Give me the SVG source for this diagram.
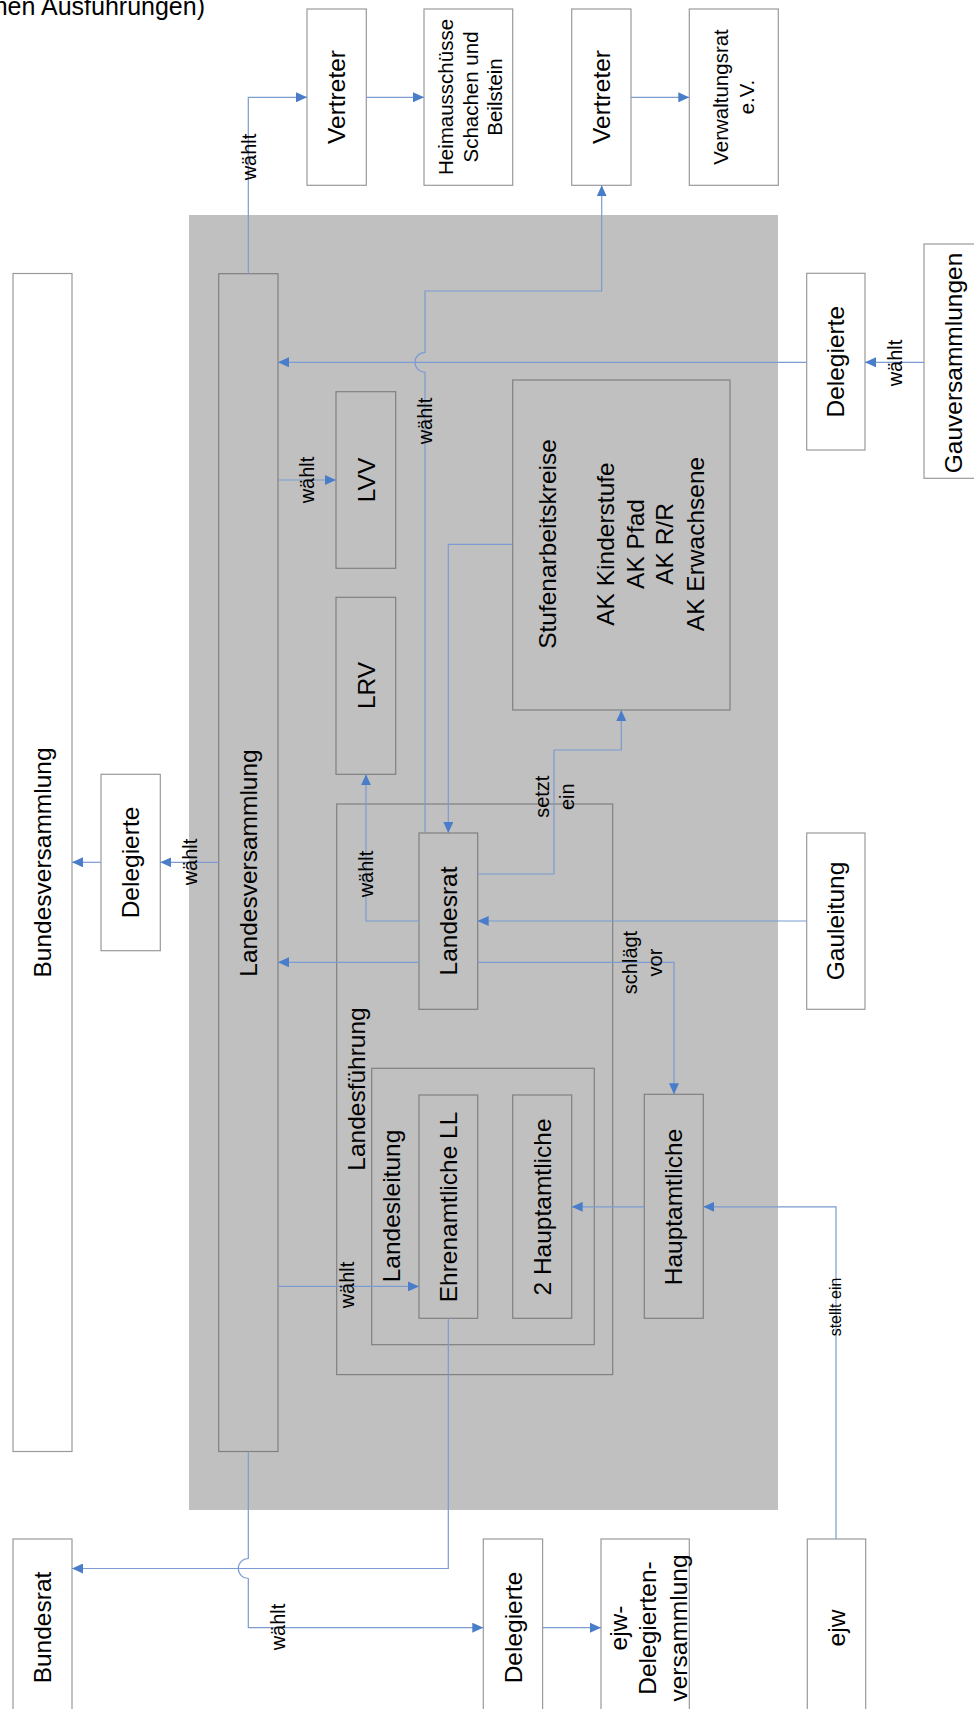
<svg xmlns="http://www.w3.org/2000/svg" width="974" height="1709" viewBox="0 0 974 1709">
<style>
.bg{fill:#c0c0c0;stroke:none}
.ob{fill:#ffffff;stroke:#9a9a9a;stroke-width:1.2}
.ib{fill:none;stroke:#808080;stroke-width:1.2}
.t{font-family:"Liberation Sans",Arial,sans-serif;font-size:24.5px;fill:#000;text-anchor:middle;dominant-baseline:central}
.s{font-family:"Liberation Sans",Arial,sans-serif;font-size:20.5px;fill:#000;text-anchor:middle;dominant-baseline:central}
.lb{font-family:"Liberation Sans",Arial,sans-serif;font-size:20px;fill:#000;text-anchor:middle;dominant-baseline:central}
.sm{font-family:"Liberation Sans",Arial,sans-serif;font-size:16px;fill:#000;text-anchor:middle;dominant-baseline:central}
.c{fill:none;stroke:#7b9bd1;stroke-width:1.2}
</style>
<defs>
<marker id="ah" markerUnits="userSpaceOnUse" markerWidth="11" markerHeight="10" refX="11" refY="5" orient="auto">
<path d="M0,0 L11,5 L0,10 z" fill="#4a7dc9"/>
</marker>
</defs>
<text x="205" y="15" font-family="Liberation Sans,Arial,sans-serif" font-size="25" text-anchor="end" fill="#000">hen Ausführungen)</text>
<rect class="bg" x="189" y="215" width="589" height="1295"/>
<g id="vertreter1"><rect class="ob" x="307" y="9" width="59.3" height="176.3"/><text class="t" transform="rotate(-90)" x="-97" y="336.5">Vertreter</text></g>
<g id="heimausschuesse"><rect class="ob" x="424" y="9" width="88.7" height="176.3"/><text class="s" transform="rotate(-90)"><tspan x="-97" y="445">Heimausschüsse</tspan><tspan x="-97" y="470">Schachen und</tspan><tspan x="-97" y="494">Beilstein</tspan></text></g>
<g id="vertreter2"><rect class="ob" x="571.7" y="9" width="59.3" height="176.3"/><text class="t" transform="rotate(-90)" x="-97" y="601.3">Vertreter</text></g>
<g id="verwaltungsrat"><rect class="ob" x="689.3" y="9" width="89" height="176.3"/><text class="s" transform="rotate(-90)"><tspan x="-97" y="720">Verwaltungsrat</tspan><tspan x="-97" y="746">e.V.</tspan></text></g>
<g id="bundesversammlung"><rect class="ob" x="13" y="273.5" width="59" height="1178"/><text class="t" transform="rotate(-90)" x="-862.5" y="42.5">Bundesversammlung</text></g>
<g id="delegierte-bund"><rect class="ob" x="101" y="774.3" width="59.3" height="176.4"/><text class="t" transform="rotate(-90)" x="-862.5" y="130.6">Delegierte</text></g>
<g id="landesversammlung"><rect class="ib" x="218.7" y="273.7" width="59.3" height="1177.8"/><text class="t" transform="rotate(-90)" x="-863" y="248.3">Landesversammlung</text></g>
<g id="lvv"><rect class="ib" x="336" y="391.7" width="59.7" height="176.6"/><text class="t" transform="rotate(-90)" x="-480" y="366">LVV</text></g>
<g id="lrv"><rect class="ib" x="336" y="597.3" width="59.7" height="177"/><text class="t" transform="rotate(-90)" x="-685.5" y="366">LRV</text></g>
<g id="stufenarbeitskreise"><rect class="ib" x="512.7" y="380" width="217.3" height="330"/><text class="t" transform="rotate(-90)"><tspan x="-544" y="546.7">Stufenarbeitskreise</tspan><tspan x="-544" y="605">AK Kinderstufe</tspan><tspan x="-544" y="635">AK Pfad</tspan><tspan x="-544" y="664">AK R/R</tspan><tspan x="-544" y="694.5">AK Erwachsene</tspan></text></g>
<g id="landesfuehrung"><rect class="ib" x="336.7" y="804" width="276" height="570.6"/><text class="t" transform="rotate(-90)" x="-1089" y="356.7">Landesführung</text></g>
<g id="landesrat"><rect class="ib" x="419" y="833" width="58.7" height="176.3"/><text class="t" transform="rotate(-90)" x="-921" y="448.3">Landesrat</text></g>
<g id="landesleitung"><rect class="ib" x="371.7" y="1068.3" width="222.6" height="276.4"/><text class="t" transform="rotate(-90)" x="-1206" y="391.7">Landesleitung</text></g>
<g id="ehrenamtliche"><rect class="ib" x="419" y="1095" width="58.7" height="223.3"/><text class="t" transform="rotate(-90)" x="-1207" y="448.3">Ehrenamtliche LL</text></g>
<g id="zwei-hauptamtliche"><rect class="ib" x="512.7" y="1095" width="59" height="223.3"/><text class="t" transform="rotate(-90)" x="-1207" y="542">2 Hauptamtliche</text></g>
<g id="hauptamtliche"><rect class="ib" x="644.3" y="1094.3" width="59" height="224"/><text class="t" transform="rotate(-90)" x="-1207" y="673.8">Hauptamtliche</text></g>
<g id="delegierte-gau"><rect class="ob" x="806.7" y="273.3" width="58.3" height="176.7"/><text class="t" transform="rotate(-90)" x="-361.7" y="835.8">Delegierte</text></g>
<g id="gauversammlungen"><rect class="ob" x="924" y="244" width="59" height="234.3"/><text class="t" transform="rotate(-90)" x="-363" y="953.5">Gauversammlungen</text></g>
<g id="gauleitung"><rect class="ob" x="806.7" y="833" width="58.3" height="176.3"/><text class="t" transform="rotate(-90)" x="-921" y="835.8">Gauleitung</text></g>
<g id="bundesrat"><rect class="ob" x="13" y="1539" width="59" height="177"/><text class="t" transform="rotate(-90)" x="-1627.5" y="42.5">Bundesrat</text></g>
<g id="delegierte-ejw"><rect class="ob" x="483.3" y="1539" width="59.3" height="177"/><text class="t" transform="rotate(-90)" x="-1627.5" y="513">Delegierte</text></g>
<g id="ejw-delegiertenversammlung"><rect class="ob" x="601" y="1539" width="88.3" height="177"/><text class="t" transform="rotate(-90)"><tspan x="-1628" y="618.3">ejw-</tspan><tspan x="-1628" y="647">Delegierten-</tspan><tspan x="-1628" y="678">versammlung</tspan></text></g>
<g id="ejw"><rect class="ob" x="807.3" y="1539" width="58.4" height="177"/><text class="t" transform="rotate(-90)" x="-1628" y="836.5">ejw</text></g>
<g id="connectors">
<path class="c" d="M248.3,273.7 V97.3 H307" marker-end="url(#ah)"/>
<path class="c" d="M366.3,97.3 H424" marker-end="url(#ah)"/>
<path class="c" d="M631,97.3 H689.3" marker-end="url(#ah)"/>
<path class="c" d="M425,833 V372.3 A10,10 0 0 1 425,352.3 V291 H601.7 V185.3" marker-end="url(#ah)"/>
<path class="c" d="M512.7,544.3 H448.3 V833" marker-end="url(#ah)"/>
<path class="c" d="M806.7,362.3 H278" marker-end="url(#ah)"/>
<path class="c" d="M924,362.3 H865" marker-end="url(#ah)"/>
<path class="c" d="M278,480 H336" marker-end="url(#ah)"/>
<path class="c" d="M218.7,862.3 H160.3" marker-end="url(#ah)"/>
<path class="c" d="M101,862.3 H72" marker-end="url(#ah)"/>
<path class="c" d="M419,921 H366 V774.3" marker-end="url(#ah)"/>
<path class="c" d="M419,962.3 H278" marker-end="url(#ah)"/>
<path class="c" d="M477.7,962.3 H674 V1094.3" marker-end="url(#ah)"/>
<path class="c" d="M477.7,874 H554 V750 H621.3 V710" marker-end="url(#ah)"/>
<path class="c" d="M806.7,921 H477.7" marker-end="url(#ah)"/>
<path class="c" d="M278,1286.4 H419" marker-end="url(#ah)"/>
<path class="c" d="M448.3,1318.3 V1568.5 H72" marker-end="url(#ah)"/>
<path class="c" d="M248.3,1451.5 V1558.5 A10,10 0 0 0 248.3,1578.5 V1627.7 H483.3" marker-end="url(#ah)"/>
<path class="c" d="M542.7,1627.7 H601" marker-end="url(#ah)"/>
<path class="c" d="M836,1539 V1206.8 H703.3" marker-end="url(#ah)"/>
<path class="c" d="M644.3,1206.8 H571.7" marker-end="url(#ah)"/>
<text class="lb" transform="rotate(-90)" x="-157" y="248.5">wählt</text>
<text class="lb" transform="rotate(-90)" x="-421" y="425">wählt</text>
<text class="lb" transform="rotate(-90)" x="-480" y="307">wählt</text>
<text class="lb" transform="rotate(-90)" x="-363" y="895">wählt</text>
<text class="lb" transform="rotate(-90)" x="-862" y="190">wählt</text>
<text class="lb" transform="rotate(-90)" x="-874" y="366">wählt</text>
<text class="lb" transform="rotate(-90)" x="-1285" y="346.7">wählt</text>
<text class="lb" transform="rotate(-90)" x="-1627" y="278.3">wählt</text>
<text class="lb" transform="rotate(-90)"><tspan x="-796.7" y="541.7">setzt</tspan><tspan x="-796.7" y="566.7">ein</tspan></text>
<text class="lb" transform="rotate(-90)"><tspan x="-962.5" y="630">schlägt</tspan><tspan x="-962.5" y="655">vor</tspan></text>
<text class="sm" transform="rotate(-90)" x="-1307" y="835">stellt ein</text>
</g>
</svg>
